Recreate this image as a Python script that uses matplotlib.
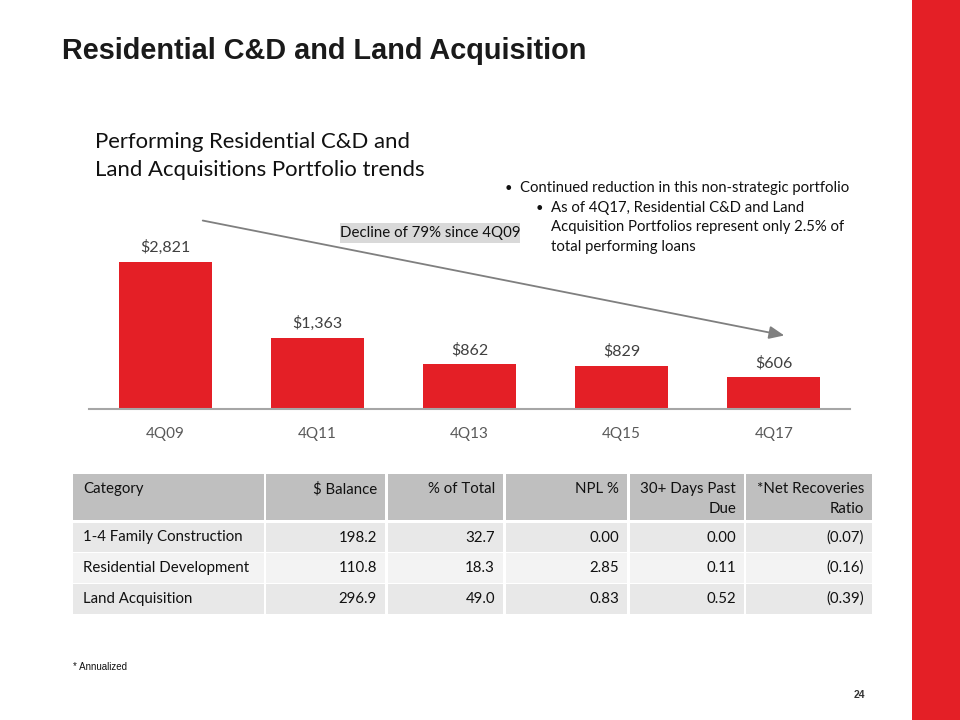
import matplotlib
matplotlib.use("Agg")
import matplotlib.pyplot as plt
from matplotlib.patches import Rectangle, FancyArrowPatch

# ---- data ----
quarters = ["4Q09", "4Q11", "4Q13", "4Q15", "4Q17"]
balances = [2821, 1363, 862, 829, 606]
value_labels = ["$2,821", "$1,363", "$862", "$829", "$606"]

table_header = ["Category", "$ Balance", "% of Total", "NPL %", "30+ Days Past\nDue", "*Net Recoveries\nRatio"]
table_categories = ["1-4 Family Construction", "Residential Development", "Land Acquisition"]
table_balance = ["198.2", "110.8", "296.9"]
table_pct_total = ["32.7", "18.3", "49.0"]
table_npl = ["0.00", "2.85", "0.83"]
table_past_due = ["0.00", "0.11", "0.52"]
table_recoveries = ["(0.07)", "(0.16)", "(0.39)"]

W, H = 960, 720
fig = plt.figure(figsize=(9.6, 7.2), dpi=100)
fig.patch.set_facecolor("white")

def fx(px):
    return px / W

def fy(py):
    return 1 - py / H

BODY = ["Lato", "DejaVu Sans"]
RED = "#e41f26"

# right red band
fig.add_artist(Rectangle((fx(912), 0), fx(48), 1, transform=fig.transFigure,
                         facecolor=RED, edgecolor="none"))

# title
fig.text(fx(62), fy(51), "Residential C&D and Land Acquisition", fontsize=20.8,
         fontweight="bold", family=["Liberation Sans"], color="#1a1a1a", va="center", ha="left")

# subtitle
fig.text(fx(95), fy(142), "Performing Residential C&D and", fontsize=15.9,
         family=BODY, color="#111111", va="center", ha="left")
fig.text(fx(95), fy(170), "Land Acquisitions Portfolio trends", fontsize=15.9,
         family=BODY, color="#111111", va="center", ha="left")

# bullets
bfs = 10.7
fig.text(fx(505), fy(188), "\u2022", fontsize=bfs - 1.5, family=BODY, va="center", color="#111111")
fig.text(fx(520), fy(188), "Continued reduction in this non-strategic portfolio", fontsize=bfs,
         family=BODY, va="center", color="#111111")
fig.text(fx(536), fy(208), "\u2022", fontsize=bfs - 1.5, family=BODY, va="center", color="#111111")
for i, line in enumerate(["As of 4Q17, Residential C&D and Land",
                          "Acquisition Portfolios represent only 2.5% of",
                          "total performing loans"]):
    fig.text(fx(551), fy(208 + 19.5 * i), line, fontsize=bfs, family=BODY, va="center", color="#111111")

# bar chart
ax = fig.add_axes([fx(89), fy(409), fx(850 - 89), (409 - 200.1) / H])
x = list(range(len(quarters)))
ax.bar(x, balances, width=0.61, color=RED, zorder=2)
ax.set_xlim(-0.5, len(quarters) - 0.5)
ax.set_ylim(0, 4000)
for s in ["top", "right", "left"]:
    ax.spines[s].set_visible(False)
ax.spines["bottom"].set_color("#a6a6a6")
ax.spines["bottom"].set_linewidth(1.5)
ax.set_yticks([])
ax.set_xticks(x)
ax.set_xticklabels(quarters, fontsize=11, family=BODY, color="#595959")
ax.tick_params(axis="x", length=0, pad=13)
for xi, v, lab in zip(x, balances, value_labels):
    ax.annotate(lab, (xi, v), xytext=(0, 5), textcoords="offset points",
                ha="center", va="bottom", fontsize=11.5, family=BODY, color="#404040")

# decline arrow
fig.add_artist(FancyArrowPatch(
    (fx(200), fy(220)), (fx(787), fy(336)), transform=fig.transFigure,
    arrowstyle="-|>,head_length=7,head_width=3", mutation_scale=1.3,
    color="#7f7f7f", lw=1.3))

# decline box
fig.add_artist(Rectangle((fx(340), fy(243)), fx(180), 20 / H, transform=fig.transFigure,
                         facecolor="#d9d9d9", edgecolor="none"))
fig.text(fx(430), fy(233), "Decline of 79% since 4Q09", fontsize=10.8, family=BODY,
         ha="center", va="center", color="#111111")

# table
col_bounds = [(73, 264), (266, 385), (388, 503), (506, 627), (630, 744), (746, 872)]
header_top, header_bot = 474, 520
row_bounds = [(523, 552), (553, 583), (584, 614)]
row_colors = ["#e8e8e8", "#f3f3f3", "#e8e8e8"]
tfs = 10.8
cols_data = [table_categories, table_balance, table_pct_total, table_npl, table_past_due, table_recoveries]

for ci, (l, r) in enumerate(col_bounds):
    fig.add_artist(Rectangle((fx(l), fy(header_bot)), fx(r - l), (header_bot - header_top) / H,
                             transform=fig.transFigure, facecolor="#bfbfbf", edgecolor="none"))
    lines = table_header[ci].split("\n")
    for li, line in enumerate(lines):
        if ci == 0:
            fig.text(fx(l + 10), fy(489 + 20 * li), line, fontsize=tfs, family=BODY,
                     ha="left", va="center", color="#111111")
        else:
            fig.text(fx(r - 8), fy(489 + 20 * li), line, fontsize=tfs, family=BODY,
                     ha="right", va="center", color="#111111")
    for ri, (t, b) in enumerate(row_bounds):
        fig.add_artist(Rectangle((fx(l), fy(b)), fx(r - l), (b - t) / H,
                                 transform=fig.transFigure, facecolor=row_colors[ri], edgecolor="none"))
        val = cols_data[ci][ri]
        yc = (t + b) / 2
        if ci == 0:
            fig.text(fx(l + 10), fy(yc), val, fontsize=tfs, family=BODY,
                     ha="left", va="center", color="#111111")
        else:
            fig.text(fx(r - 8), fy(yc), val, fontsize=tfs, family=BODY,
                     ha="right", va="center", color="#111111")

# footnote and page number
fig.text(fx(73), fy(667), "* Annualized", fontsize=7, family=["Liberation Sans"],
         ha="left", va="center", color="#111111")
fig.text(fx(865), fy(695), "24", fontsize=7.5, fontweight="bold", family=["Liberation Sans"],
         ha="right", va="center", color="#333333")

fig.savefig("out.png", dpi=100)
